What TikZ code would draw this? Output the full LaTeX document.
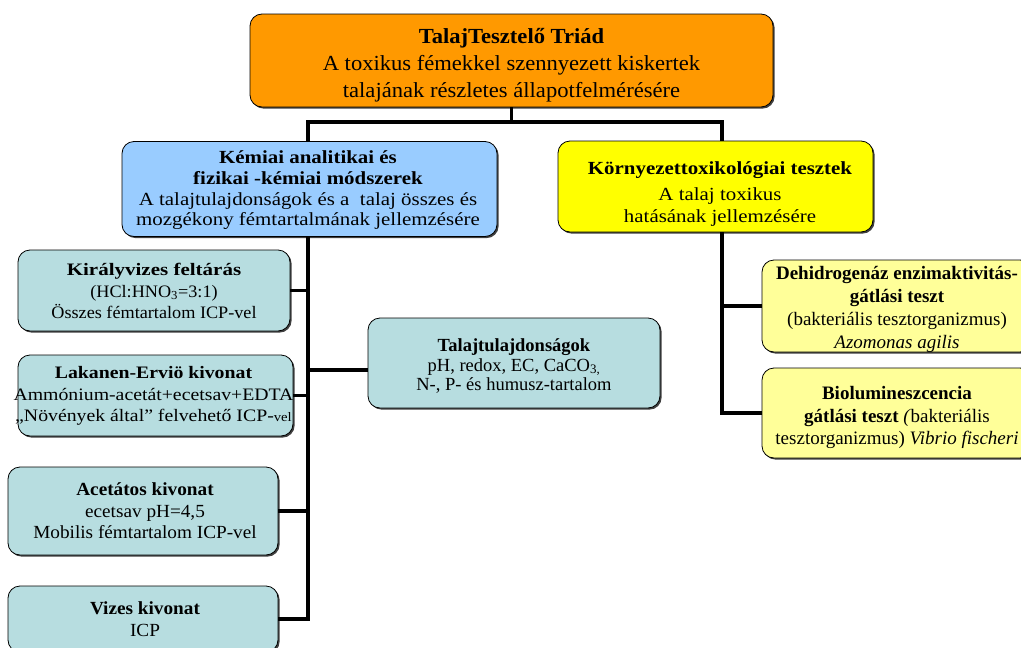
\documentclass[tikz,border=0pt]{standalone}
\usepackage{fontspec}
\setmainfont{Liberation Serif}
\newfontfamily\stTop[FakeStretch=1.05]{Liberation Serif}
\newfontfamily\stMid[FakeStretch=1.13]{Liberation Serif}
\newfontfamily\stKir[FakeStretch=1.04]{Liberation Serif}
\newfontfamily\stKirB[FakeStretch=1.2]{Liberation Serif}
\newfontfamily\stLak[FakeStretch=1.13]{Liberation Serif}
\newfontfamily\stAce[FakeStretch=1.04]{Liberation Serif}
\usetikzlibrary{shadows}
\definecolor{orangebox}{HTML}{FF9900}
\definecolor{bluebox}{HTML}{99CCFF}
\definecolor{yellowbox}{HTML}{FFFF00}
\definecolor{tealbox}{HTML}{B7DDE0}
\definecolor{paleyellow}{HTML}{FFFF99}
\begin{document}
\begin{tikzpicture}[x=1pt,y=-1pt,
  box/.style={draw=black, line width=0.8pt, rounded corners=12pt, inner sep=0pt,
    drop shadow={shadow xshift=1.6pt, shadow yshift=-1.6pt, fill=black!75, opacity=1}},
  txt/.style={align=center, inner sep=0pt},
  conn/.style={line width=3.6pt, line join=miter}]
\useasboundingbox (0,0) rectangle (1021,648);
\clip (0,0) rectangle (1021,648);
\fill[white] (0,0) rectangle (1021,648);

% boxes
\node[box, fill=orangebox, minimum width=523pt, minimum height=93pt] (top) at (511.5,60.5) {};
\node[box, fill=bluebox, minimum width=375pt, minimum height=95pt] (chem) at (309.5,189) {};
\node[box, fill=yellowbox, minimum width=315pt, minimum height=91pt] (tox) at (715.5,186.5) {};
\node[box, fill=tealbox, minimum width=272pt, minimum height=81pt] (kir) at (154,290.5) {};
\node[box, fill=tealbox, minimum width=275pt, minimum height=81pt] (lak) at (155.5,395.5) {};
\node[box, fill=tealbox, minimum width=270pt, minimum height=88pt] (ace) at (143,511) {};
\node[box, fill=tealbox, minimum width=270pt, minimum height=66pt] (viz) at (143,619) {};
\node[box, fill=tealbox, minimum width=292pt, minimum height=90pt] (tul) at (514,363) {};
\node[box, fill=paleyellow, minimum width=270pt, minimum height=92pt] (deh) at (897,306) {};
\node[box, fill=paleyellow, minimum width=270pt, minimum height=90pt] (bio) at (897,413) {};

% texts
\node[txt, font=\stTop\fontsize{21.5}{27}\selectfont] (topT) at (511.5,65)
  {\textbf{TalajTesztelő Triád}\\A toxikus fémekkel szennyezett kiskertek\\talajának részletes állapotfelmérésére};
\node[txt, font=\stMid\fontsize{18.5}{20.7}\selectfont] (chemT) at (308,190.5)
  {\textbf{Kémiai analitikai és}\\\textbf{fizikai -kémiai módszerek}\\A talajtulajdonságok és a\ \ talaj összes és\\mozgékony fémtartalmának jellemzésére};
\node[txt, font=\stMid\fontsize{18.5}{22}\selectfont] (toxT) at (720,194)
  {\textbf{Környezettoxikológiai tesztek}\\[4pt]A talaj toxikus\\hatásának jellemzésére};
\node[txt, font=\stKir\fontsize{17.5}{21.7}\selectfont] (kirT) at (154,291)
  {{\stKirB\bfseries Királyvizes feltárás}\\(HCl:HNO\textsubscript{3}=3:1)\\Összes fémtartalom ICP-vel};
\node[txt, font=\stLak\fontsize{17.5}{21.7}\selectfont] (lakT) at (153.5,396)
  {\textbf{Lakanen-Erviö kivonat}\\Ammónium-acetát+ecetsav+EDTA\\„Növények által” felvehető ICP-{\fontsize{13}{15}\selectfont vel}};
\node[txt, font=\stAce\fontsize{18.5}{21.4}\selectfont] (aceT) at (145,511)
  {\textbf{Acetátos kivonat}\\ecetsav pH=4,5\\Mobilis fémtartalom ICP-vel};
\node[txt, font=\stAce\fontsize{18.5}{21.4}\selectfont] (vizT) at (145,619)
  {\textbf{Vizes kivonat}\\ICP};
\node[txt, font=\fontsize{18.5}{19.5}\selectfont] (tulT) at (514,366)
  {\textbf{Talajtulajdonságok}\\pH, redox, EC, CaCO\textsubscript{3,}\\N-, P- és humusz-tartalom};
\node[txt, font=\fontsize{19}{23}\selectfont] (dehT) at (897,309.5)
  {\textbf{Dehidrogenáz enzimaktivitás-}\\\textbf{gátlási teszt}\\(bakteriális tesztorganizmus)\\\textit{Azomonas agilis}};
\node[txt, font=\fontsize{19}{22.5}\selectfont] (bioT) at (897,417.5)
  {\textbf{Biolumineszcencia}\\\textbf{gátlási teszt} \textit{(}bakteriális\\tesztorganizmus) \textit{Vibrio fischeri}};

% connectors
\coordinate (j) at (511.5,122);
\coordinate (jl) at (308,122);
\coordinate (jr) at (722,122);
\draw[conn] (top.south) -- (j);
\draw[conn] (jl |- chem.north) -- (jl) -- (jr) -- (jr |- tox.north);

\draw[conn] (jl |- chem.south) -- (jl |- viz.east) -- (viz.east);
\draw[conn] (kir.east) -- (kir.east -| jl);
\draw[conn] (lak.east) -- (lak.east -| jl);
\draw[conn] (ace.east) -- (ace.east -| jl);
\coordinate (tj) at (308,370);
\draw[conn] (tj) -- (tj -| tul.west);

\draw[conn] (jr |- tox.south) -- (jr |- bio.west) -- (bio.west);
\draw[conn] (deh.west -| jr) -- (deh.west);
\end{tikzpicture}
\end{document}
